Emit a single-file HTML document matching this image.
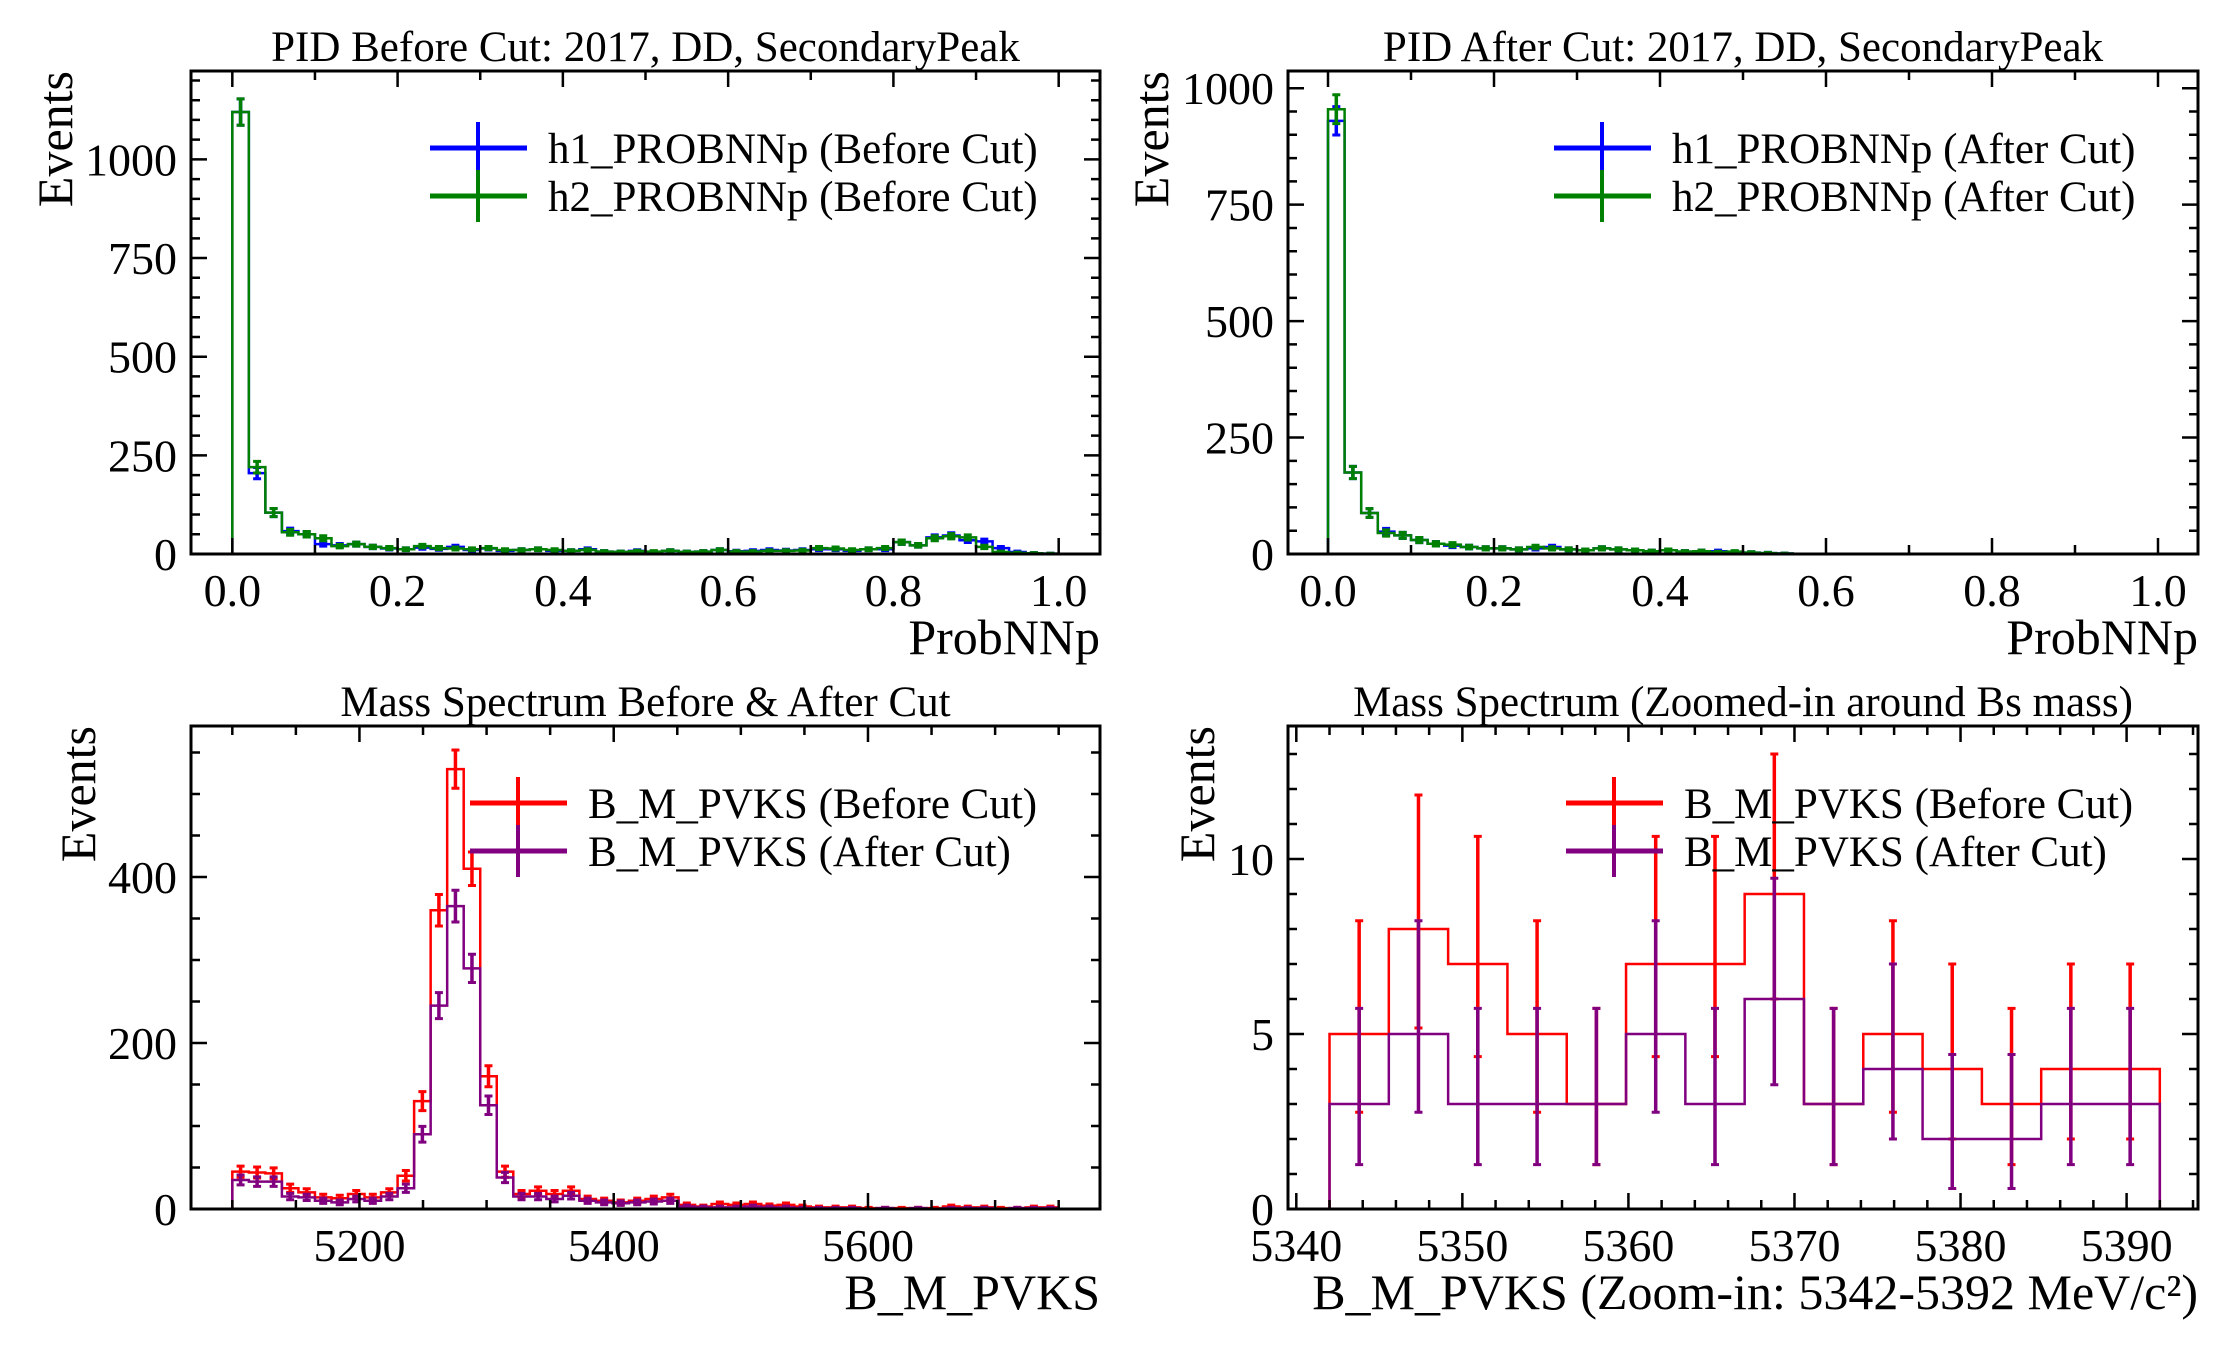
<!DOCTYPE html>
<html><head><meta charset="utf-8">
<style>
html,body{margin:0;padding:0;background:#fff;}
svg{display:block;font-family:"Liberation Serif","DejaVu Serif",serif;}
</style></head>
<body>
<svg id="fig" width="2232" height="1350" viewBox="0 0 2232 1350" xmlns="http://www.w3.org/2000/svg"></svg>
<script>
// ---- Panel 1: PID before cut (50 bins, 0..1)
const tlH1 = [1120,205,105,58,50,25,22,25,18,14, 12,16,13,18,10,14,8,10,12,8, 8,12,6,5,8,5,8,5,6,10, 7,8,10,9,10,12,12,8,12,12, 30,22,42,47,35,32,15,5,2,1];
const tlH2 = [1120,220,105,55,50,40,20,25,18,15, 12,20,15,14,12,15,10,10,12,10, 8,10,6,5,7,6,8,5,6,10, 6,6,8,8,9,15,14,10,12,15, 30,22,40,45,42,18,5,3,2,1];
// ---- Panel 2: PID after cut (50 bins, 0..1)
const trH1 = [930,175,88,48,40,30,22,18,15,12, 12,10,12,15,10,8,12,10,8,6, 8,5,6,6,4,3,2,1,0,0, 0,0,0,0,0,0,0,0,0,0, 0,0,0,0,0,0,0,0,0,0];
const trH2 = [955,175,88,45,40,30,22,20,15,12, 12,10,15,12,10,8,12,10,8,6, 8,5,6,4,5,3,2,1,0,0, 0,0,0,0,0,0,0,0,0,0, 0,0,0,0,0,0,0,0,0,0];
// ---- Panel 3: mass spectrum (50 bins, 5100..5750)
const blBefore = [45,44,43,25,20,14,13,18,14,20, 40,130,360,530,410,160,45,18,22,18, 22,12,10,8,10,12,14,5,3,6, 5,6,4,5,3,2,2,2,1,1, 1,1,1,3,2,2,1,1,2,2];
const blAfter = [35,33,33,15,14,10,8,12,10,15, 25,90,245,365,290,125,38,15,15,12, 16,10,8,7,8,9,10,3,2,2, 2,3,2,2,1,1,1,1,0,1, 0,1,0,1,1,1,0,1,1,1];
// ---- Panel 4: zoom (14 bins, 5342..5392)
const brBefore = [5,8,7,5,3,7,7,9,3,5,4,3,4,4];
const brAfter = [3,5,3,3,3,5,3,6,3,4,2,2,3,3];
// tick labels
const tlXTicks = ["0.0","0.2","0.4","0.6","0.8","1.0"];
const tlYTicks = ["0","250","500","750","1000"];
const blXTicks = ["5200","5400","5600"];
const blYTicks = ["0","200","400"];
const brXTicks = ["5340","5350","5360","5370","5380","5390"];
const brYTicks = ["0","5","10"];

const NS = "http://www.w3.org/2000/svg";
const svg = document.getElementById('fig');
function mk(tag, attrs, parent, name){
  const e = document.createElementNS(NS, tag);
  for (const k in attrs) e.setAttribute(k, attrs[k]);
  
  
  (parent||svg).appendChild(e);
  return e;
}
function txt(s, x, y, size, anchor, parent, name, rot){
  const t = mk('text', {x:x, y:y, 'font-size':size, 'text-anchor':anchor||'middle', fill:'#000'}, parent, name);
  if (rot) t.setAttribute('transform', 'rotate(-90 '+x+' '+y+')');
  t.textContent = s;
  return t;
}

function panel(o){
  const g = mk('g', {}, svg, o.name);
  const X = v => o.bx0 + (v - o.xmin) / (o.xmax - o.xmin) * (o.bx1 - o.bx0);
  const Y = v => o.by1 - (v - o.ymin) / (o.ymax - o.ymin) * (o.by1 - o.by0);
  o.series.forEach((s, si) => {
    const n = s.vals.length, w = (o.hmax - o.hmin) / n;
    let d = 'M' + X(o.hmin) + ' ' + Y(0);
    s.vals.forEach((v, i) => {
      d += ' L' + X(o.hmin + i*w) + ' ' + Y(v) + ' L' + X(o.hmin + (i+1)*w) + ' ' + Y(v);
    });
    d += ' L' + X(o.hmax) + ' ' + Y(0);
    mk('path', {d:d, fill:'none', stroke:s.color, 'stroke-width':2.5}, g, s.key + '-histogram');
    s.vals.forEach((v, i) => {
      const cx = X(o.hmin + (i+0.5)*w);
      const lo = Math.max(0, v - Math.sqrt(v));
      const hi = v + Math.sqrt(v) + (o.poisson ? 1 : 0);
      const e1 = document.createElementNS(NS, 'line');
      e1.setAttribute('x1', cx); e1.setAttribute('x2', cx);
      e1.setAttribute('y1', Y(Math.min(hi, o.ymax))); e1.setAttribute('y2', Y(lo));
      e1.setAttribute('stroke', s.color); e1.setAttribute('stroke-width', 3.5);
      
      
      g.appendChild(e1);
      if (hi > 0){
        const e2 = document.createElementNS(NS, 'path');
        e2.setAttribute('d', 'M'+(cx-4)+' '+Y(Math.min(hi,o.ymax))+' H'+(cx+4)+' M'+(cx-4)+' '+Y(lo)+' H'+(cx+4));
        e2.setAttribute('stroke', s.color); e2.setAttribute('stroke-width', 3);
        
        
        g.appendChild(e2);
      }
    });
  });
  mk('rect', {x:o.bx0, y:o.by0, width:o.bx1-o.bx0, height:o.by1-o.by0, fill:'none', stroke:'#000', 'stroke-width':3}, g, 'plot-frame');
  let td = '';
  for (let v = o.xminor0; v <= o.xmax + 1e-9; v += o.xminor){
    const x = X(v); if (x < o.bx0 - 0.5) continue;
    const maj = Math.abs(Math.round((v - o.xmaj0)/o.xmajor) * o.xmajor + o.xmaj0 - v) < 1e-6;
    const L = maj ? 16 : 9;
    td += 'M'+x+' '+o.by1+' v'+(-L)+' M'+x+' '+o.by0+' v'+L+' ';
  }
  for (let v = 0; v <= o.ymax + 1e-9; v += o.yminor){
    const y = Y(v);
    const maj = Math.abs(Math.round(v/o.ymajor)*o.ymajor - v) < 1e-6;
    const L = maj ? 16 : 9;
    td += 'M'+o.bx0+' '+y+' h'+L+' M'+o.bx1+' '+y+' h'+(-L)+' ';
  }
  mk('path', {d:td, stroke:'#000', 'stroke-width':2.5, fill:'none'}, g, 'axis-ticks');
  o.xticks.forEach(s => txt(s, X(parseFloat(s)), o.by1 + 52, 46, 'middle', g, 'x-tick-label'));
  o.yticks.forEach(s => txt(s, o.bx0 - 14, Y(parseFloat(s)) + 16, 46, 'end', g, 'y-tick-label'));
  txt(o.title, (o.bx0+o.bx1)/2, o.by0 - 10, 43, 'middle', g, 'panel-title');
  txt(o.xlabel, o.bx1, o.by1 + 100, 50, 'end', g, 'x-axis-title');
  txt('Events', o.ylx, o.by0, 50, 'end', g, 'y-axis-title', true);
  o.series.forEach((s, i) => {
    const y = o.legY + i*48;
    const lg = mk('g', {}, g, 'legend-entry');
    mk('line', {x1:o.legX, x2:o.legX+97, y1:y, y2:y, stroke:s.color, 'stroke-width':5}, lg, 'legend-line');
    mk('line', {x1:o.legX+48, x2:o.legX+48, y1:y-26, y2:y+26, stroke:s.color, 'stroke-width':4}, lg, 'legend-errorbar');
    txt(s.label, o.legX+118, y+15, 43, 'start', lg, 'legend-label');
  });
}

panel({name:'pid-before-cut-panel', bx0:191, bx1:1100, by0:71, by1:554,
  xmin:-0.05, xmax:1.05, ymin:0, ymax:1224, hmin:0, hmax:1,
  xmaj0:0, xmajor:0.2, xminor0:0, xminor:0.1, ymajor:250, yminor:50,
  xticks:tlXTicks, yticks:tlYTicks, title:'PID Before Cut: 2017, DD, SecondaryPeak', xlabel:'ProbNNp', ylx:72,
  legX:430, legY:148,
  series:[{key:'h1',vals:tlH1,color:'#0000ff',label:'h1_PROBNNp (Before Cut)'},{key:'h2',vals:tlH2,color:'#008000',label:'h2_PROBNNp (Before Cut)'}]});
panel({name:'pid-after-cut-panel', bx0:1288, bx1:2198, by0:71, by1:554,
  xmin:-0.0482, xmax:1.0482, ymin:0, ymax:1037, hmin:0, hmax:1,
  xmaj0:0, xmajor:0.2, xminor0:0, xminor:0.1, ymajor:250, yminor:50,
  xticks:tlXTicks, yticks:tlYTicks, title:'PID After Cut: 2017, DD, SecondaryPeak', xlabel:'ProbNNp', ylx:1168,
  legX:1554, legY:148,
  series:[{key:'h1',vals:trH1,color:'#0000ff',label:'h1_PROBNNp (After Cut)'},{key:'h2',vals:trH2,color:'#008000',label:'h2_PROBNNp (After Cut)'}]});
panel({name:'mass-spectrum-panel', bx0:191, bx1:1100, by0:726, by1:1209,
  xmin:5067.5, xmax:5782.5, ymin:0, ymax:582, hmin:5100, hmax:5750,
  xmaj0:5200, xmajor:200, xminor0:5050, xminor:50, ymajor:200, yminor:50,
  xticks:blXTicks, yticks:blYTicks, title:'Mass Spectrum Before & After Cut', xlabel:'B_M_PVKS', ylx:95,
  legX:470, legY:803,
  series:[{key:'before',vals:blBefore,color:'#ff0000',label:'B_M_PVKS (Before Cut)'},{key:'after',vals:blAfter,color:'#800080',label:'B_M_PVKS (After Cut)'}]});
panel({name:'mass-zoom-panel', bx0:1288, bx1:2198, by0:726, by1:1209,
  xmin:5339.5, xmax:5394.3, ymin:0, ymax:13.8, hmin:5342, hmax:5392, poisson:true,
  xmaj0:5340, xmajor:10, xminor0:5340, xminor:2, ymajor:5, yminor:1,
  xticks:brXTicks, yticks:brYTicks, title:'Mass Spectrum (Zoomed-in around Bs mass)', xlabel:'B_M_PVKS (Zoom-in: 5342-5392 MeV/c²)', ylx:1214,
  legX:1566, legY:803,
  series:[{key:'before',vals:brBefore,color:'#ff0000',label:'B_M_PVKS (Before Cut)'},{key:'after',vals:brAfter,color:'#800080',label:'B_M_PVKS (After Cut)'}]});
</script>
</body></html>
